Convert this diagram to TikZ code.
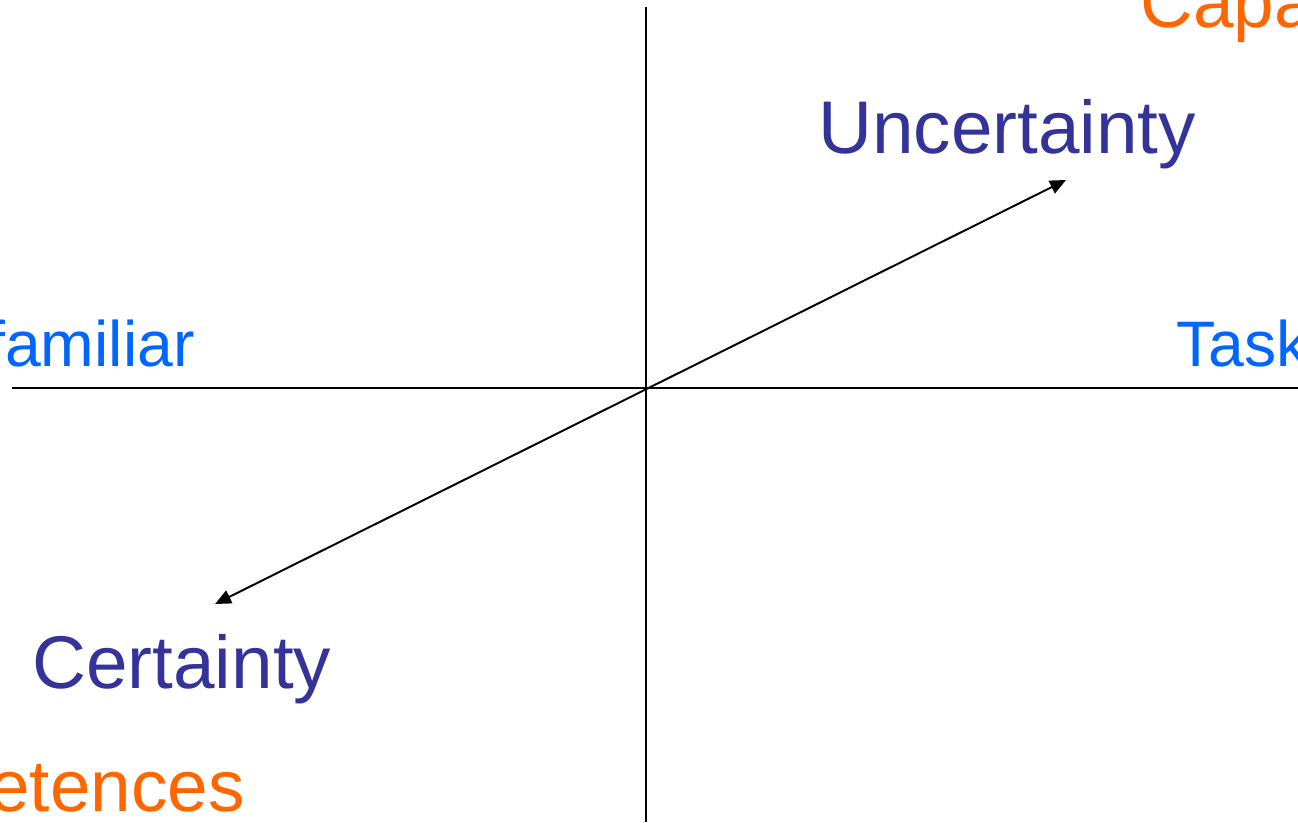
\documentclass[tikz,border=0pt]{standalone}
\usepackage{fontspec}
\setmainfont{Liberation Sans}
\usetikzlibrary{positioning,calc}
\usetikzlibrary{arrows.meta}
\definecolor{AxisBlue}{RGB}{0,102,255}
\definecolor{EndBlue}{RGB}{51,51,153}
\definecolor{CapOrange}{RGB}{255,102,0}
\tikzset{
  axis/.style={draw=black,line width=1.1pt},
  spread/.style={draw=black,line width=1.1pt,{Triangle[length=0.32cm,width=0.28cm]}-{Triangle[length=0.32cm,width=0.28cm]}},
  axlab/.style={anchor=base west,inner sep=0pt,text=AxisBlue,font=\fontsize{36.6}{40}\selectfont},
  endlab/.style={anchor=base west,inner sep=0pt,text=EndBlue,font=\fontsize{42.5}{46}\selectfont},
  caplab/.style={anchor=base west,inner sep=0pt,text=CapOrange,font=\fontsize{41.5}{44}\selectfont},
}

\begin{document}
\begin{tikzpicture}[x=0.02cm,y=-0.02cm]
\useasboundingbox (0,0) rectangle (1298,822);
\coordinate (top) at (646,7);
\coordinate (bot) at (646,822);
\coordinate (lft) at (12,388);
\coordinate (rgt) at (1298,388);
\coordinate (hi) at (1066,180);
\coordinate (lo) at (215,604);
\draw[axis] (top)--(bot);
\draw[axis] (lft)--(rgt);
\draw[spread] (lo)--(hi);
\node[endlab] (unc) at (818,153) {Uncertainty};
\node[endlab] (cert) at (32,688) {Certainty};
\node[axlab] (fam) at (-13,366) {familiar};
\node[axlab] (task) at (1176,366) {Task};
\node[caplab] (capa) at (1140,27) {Capa};
\node[caplab] (comp) at (-11,811) {etences};
\end{tikzpicture}
\end{document}
